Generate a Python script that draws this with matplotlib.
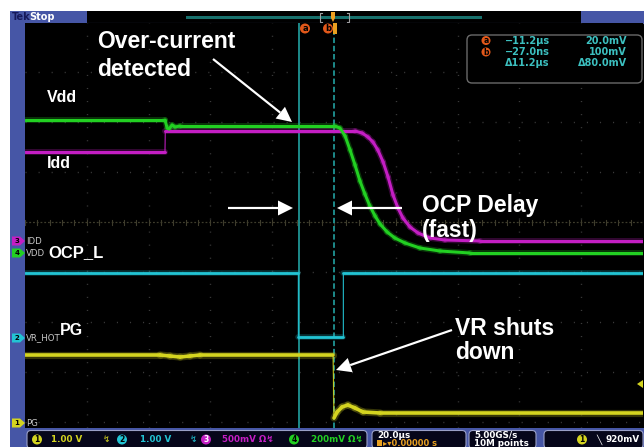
import matplotlib
matplotlib.use("Agg")
import matplotlib.pyplot as plt
from matplotlib.patches import Rectangle, FancyBboxPatch, Circle, Polygon
from matplotlib.collections import LineCollection
import numpy as np

# ---------------- data (time in µs, level in screen divisions) ----------------
vdd_t = [-100, -54.7, -54.0, -53.4, -52.4, -51.5, -49.8, 0.3, 1.9, 3.6, 5.2, 6.8, 8.4,
         10.0, 11.6, 13.3, 14.9, 17.2, 19.7, 23.0, 27.8, 34.3, 44.0, 100]
vdd_v = [2.04, 2.04, 1.88, 1.86, 1.94, 1.90, 1.92, 1.92, 1.88, 1.72, 1.44, 1.14, 0.82,
         0.56, 0.32, 0.12, -0.04, -0.20, -0.32, -0.42, -0.52, -0.58, -0.62, -0.62]
idd_t = [-100, -54.7, -54.6, 6.8, 9.1, 11.0, 12.6, 14.2, 15.9, 17.5, 19.1, 20.7, 22.3,
         24.6, 27.2, 31.1, 35.9, 47.2, 100]
idd_v = [1.40, 1.40, 1.82, 1.82, 1.78, 1.70, 1.60, 1.44, 1.20, 0.90, 0.54, 0.28, 0.08,
         -0.10, -0.22, -0.32, -0.36, -0.38, -0.38]
ocp_t = [-100, -11.6, -11.6, 2.9, 2.9, 100]
ocp_v = [-1.02, -1.02, -2.30, -2.30, -1.02, -1.02]
pg_t = [-100, -56.3, -53.1, -49.8, -46.6, -43.4, -0.3, 0.0, 1.0, 2.6, 4.5, 6.8, 9.4, 14.9, 100]
pg_v = [-2.66, -2.66, -2.68, -2.70, -2.68, -2.66, -2.66, -3.92, -3.80, -3.70, -3.66,
        -3.72, -3.80, -3.82, -3.82]

cursor_a_t = -11.2
cursor_b_t = -0.027

chan_names = ["IDD", "VDD", "VR_HOT", "PG"]
chan_nums = ["3", "4", "2", "1"]
chan_ground = [-0.38, -0.62, -2.32, -4.02]

readout_rows = [("a", "\u221211.2\u00b5s", "20.0mV"),
                ("b", "\u221227.0ns", "100mV"),
                ("", "\u039411.2\u00b5s", "\u039480.0mV")]

# ---------------- colours ----------------
C_GREEN = "#22d022"
C_MAG = "#c41ec4"
C_CYAN = "#22c4d4"
C_YEL = "#d4d420"
C_CUR = "#1f9494"
C_BLUE = "#4656a6"
C_ORANGE = "#e2581a"
C_GRID = "#3a3a3a"

W, H = 644, 447
L, R, T, B = 25, 643, 23, 428
PX = 0.72  # points per pixel

fig = plt.figure(figsize=(W / 100, H / 100), dpi=100)
fig.patch.set_facecolor("white")

bg = fig.add_axes([0, 0, 1, 1], zorder=0)
bg.set_xlim(0, W); bg.set_ylim(H, 0); bg.axis("off")

# frame / header / bottom band
bg.add_patch(Rectangle((10, 11), W - 10, H - 11, fc="black", ec="none"))
bg.add_patch(Rectangle((10, 11), 77, 12, fc=C_BLUE, ec="none"))
bg.add_patch(Rectangle((581, 11), W - 581, 12, fc=C_BLUE, ec="none"))
bg.add_patch(Rectangle((10, T), L - 10, B - T, fc=C_BLUE, ec="none"))
bg.add_patch(Rectangle((10, B), W - 10, H - B, fc=C_BLUE, ec="none"))
bg.text(12, 17.5, "Tek", color="#15185a", fontsize=7, fontweight="bold", va="center")
bg.text(29, 17.5, "Stop", color="white", fontsize=7, fontweight="bold", va="center")
bg.add_patch(Rectangle((186, 15.5), 296, 3, fc="#17706c", ec="none"))
bg.plot([322, 320, 320, 322], [13, 13, 22, 22], color="#a0a0a0", lw=0.8)
bg.plot([347, 349, 349, 347], [13, 13, 22, 22], color="#a0a0a0", lw=0.8)
bg.add_patch(Polygon([[331, 12], [335, 12], [335, 18], [333, 22], [331, 18]], fc="#f0a020", ec="none"))
bg.plot([L, R], [T, T], color="#56609a", lw=0.8)

# ---------------- scope screen ----------------
sc = fig.add_axes([L / W, (H - B) / H, (R - L) / W, (B - T) / H], zorder=1)
sc.set_facecolor("black")
sc.set_xlim(-100, 100)
sc.set_ylim(-(B - 222) / 50, (222 - T) / 50)
for s in sc.spines.values():
    s.set_visible(False)
sc.set_xticks([]); sc.set_yticks([])

dot = (0, (0.8, 8.6))
for xg in range(-80, 100, 20):
    if xg != 0:
        sc.axvline(xg, color=C_GRID, lw=1.0, ls=dot)
for yg in range(-4, 4):
    if yg != 0:
        sc.axhline(yg, color=C_GRID, lw=1.0, ls=dot)
sc.axhline(0, color="#3e3c2c", lw=0.9, ls=(0, (1.5, 1.5)))
for tk in np.arange(-100, 101, 4):
    sc.plot([tk, tk], [-0.05, 0.05], color="#3e3c2c", lw=0.8)

# cursors
sc.axvline(cursor_a_t, color=C_CUR, lw=1.3 * PX * 1.4)
sc.axvline(cursor_b_t, color=C_CUR, lw=1.3 * PX * 1.4, ls=(0, (3, 1.5)))


def trace(t, v, color, lw_px):
    t = np.asarray(t, float); v = np.asarray(v, float)
    pts = np.column_stack([t, v])
    segs = np.stack([pts[:-1], pts[1:]], axis=1)
    edge = np.abs(np.diff(t)) < 0.5
    w = np.where(edge, 0.6, lw_px * PX)
    sc.add_collection(LineCollection(segs, linewidths=w * 2.0, colors=color, alpha=0.25,
                                     capstyle="round", joinstyle="round", zorder=3))
    sc.add_collection(LineCollection(segs, linewidths=w, colors=color,
                                     capstyle="round", joinstyle="round", zorder=4))


trace(idd_t, idd_v, C_MAG, 3.0)
trace(vdd_t, vdd_v, C_GREEN, 3.0)
trace(ocp_t, ocp_v, C_CYAN, 2.8)
trace(pg_t, pg_v, C_YEL, 3.6)

# ---------------- overlay (pixel coords) ----------------
ov = fig.add_axes([0, 0, 1, 1], zorder=3)
ov.set_xlim(0, W); ov.set_ylim(H, 0); ov.axis("off"); ov.patch.set_alpha(0)


def badge(x, y, r, fc, txt, tc="black", fs=6):
    ov.add_patch(Circle((x, y), r, fc=fc, ec="none"))
    ov.text(x, y + 0.3, txt, ha="center", va="center", fontsize=fs, color=tc, fontweight="bold")


# channel ground markers
gy = [222 - g * 50 for g in chan_ground]
tagcol = {"1": C_YEL, "2": C_CYAN, "3": C_MAG, "4": C_GREEN}
for name, num, y in zip(chan_names, chan_nums, gy):
    ov.add_patch(Polygon([[12, y - 4.5], [20, y - 4.5], [25, y], [20, y + 4.5], [12, y + 4.5]],
                         fc=tagcol[num], ec="none"))
    ov.text(17, y + 0.3, num, ha="center", va="center", fontsize=5, color="black", fontweight="bold")
    ov.text(26, y, name, ha="left", va="center", fontsize=6.2, color="#c8c8c8")

# cursor badges on top
badge(305, 28.5, 5, C_ORANGE, "a", fs=6)
badge(328, 28.5, 5, C_ORANGE, "b", fs=6)
ov.add_patch(Rectangle((333, 23), 4, 11, fc="#e8a020", ec="none"))

# trigger level marker right
ov.add_patch(Polygon([[643, 380], [643, 388], [637, 384]], fc=C_YEL, ec="none"))

# cursor readout box
ov.add_patch(FancyBboxPatch((467, 35), 175, 48, boxstyle="round,pad=0,rounding_size=5",
                            fc="black", ec="#6a6a6a", lw=1.0))
for i, (lab, tv, vv) in enumerate(readout_rows):
    y = 40.5 + i * 11.5
    if lab:
        badge(486, y, 4.5, C_ORANGE, lab, fs=5.5)
    ov.text(505, y, tv, ha="left", va="center", fontsize=7, color="#3cc0c0", fontweight="bold")
    ov.text(627, y, vv, ha="right", va="center", fontsize=7, color="#3cc0c0", fontweight="bold")

# bottom info boxes
for (x0, w) in [(27, 340), (372, 94), (469, 67), (544, 99)]:
    ov.add_patch(FancyBboxPatch((x0, 430.5), w, 18, boxstyle="round,pad=0,rounding_size=4",
                                fc="#06061a", ec="#9aa0c8", lw=0.8))
ry = 439.5
badge(37, ry, 5, C_YEL, "1", fs=5.5)
ov.text(51, ry, "1.00 V", color=C_YEL, fontsize=6.3, va="center", fontweight="bold")
ov.text(103, ry, "\u21af", color=C_YEL, fontsize=6.3, va="center")
badge(122, ry, 5, C_CYAN, "2", fs=5.5)
ov.text(140, ry, "1.00 V", color=C_CYAN, fontsize=6.3, va="center", fontweight="bold")
ov.text(190, ry, "\u21af", color=C_CYAN, fontsize=6.3, va="center")
badge(206, ry, 5, C_MAG, "3", fs=5.5, tc="white")
ov.text(222, ry, "500mV \u03a9\u21af", color=C_MAG, fontsize=6.3, va="center", fontweight="bold")
badge(294, ry, 5, C_GREEN, "4", fs=5.5)
ov.text(311, ry, "200mV \u03a9\u21af", color=C_GREEN, fontsize=6.3, va="center", fontweight="bold")
ov.text(377, 435.5, "20.0\u00b5s", color="white", fontsize=6.3, va="center", fontweight="bold")
ov.add_patch(Rectangle((377, 440), 5, 6, fc="#e8a020", ec="none"))
ov.text(383, 443.5, "\u25b8\u25be0.00000 s", color="#e8a020", fontsize=6, va="center", fontweight="bold")
ov.text(474, 435.5, "5.00GS/s", color="white", fontsize=6.3, va="center", fontweight="bold")
ov.text(474, 443.5, "10M points", color="white", fontsize=6.3, va="center", fontweight="bold")
badge(582, ry, 5, C_YEL, "1", fs=5.5)
ov.text(596, ry, "\u2572", color="white", fontsize=6.3, va="center")
ov.text(640, ry, "920mV", color="white", fontsize=6.3, va="center", ha="right", fontweight="bold")

# ---------------- annotations ----------------
ann = dict(color="white", fontweight="bold", family="Liberation Sans", ha="left", va="baseline")
ov.text(97, 48, "Over-current", fontsize=16.5, **ann)
ov.text(97, 76, "detected", fontsize=16.5, **ann)
ov.text(47, 101.5, "Vdd", fontsize=11.5, **ann)
ov.text(47, 168, "Idd", fontsize=11.5, **ann)
ov.text(48, 257, "OCP_L", fontsize=12, **ann)
ov.text(60, 335, "PG", fontsize=11.5, **ann)
ov.text(422, 212, "OCP Delay", fontsize=16.5, **ann)
ov.text(422, 237, "(fast)", fontsize=16.5, **ann)
ov.text(455, 335, "VR shuts", fontsize=16.5, **ann)
ov.text(455, 359, "down", fontsize=16.5, **ann)


def arrow(tail, tip, hl=15, hw=15, lw_px=2.2):
    tail = np.array(tail, float); tip = np.array(tip, float)
    d = tip - tail; n = d / np.hypot(*d); p = np.array([-n[1], n[0]])
    base = tip - n * hl
    ov.plot([tail[0], base[0]], [tail[1], base[1]], color="white", lw=lw_px * PX, solid_capstyle="butt")
    ov.add_patch(Polygon([tip, base + p * hw / 2, base - p * hw / 2], fc="white", ec="none"))


arrow((213, 59), (292, 122))
arrow((228, 208), (293, 208))
arrow((402, 208), (337, 208))
arrow((452, 330), (336, 370))

fig.savefig("out.png", dpi=100, facecolor=fig.get_facecolor())
